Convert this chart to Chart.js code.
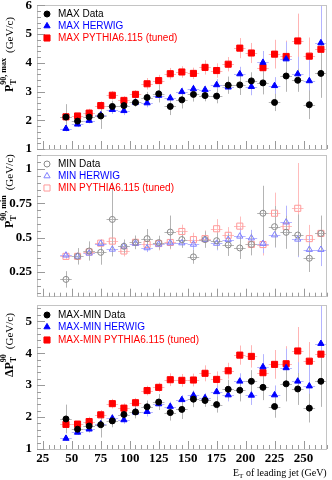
<!DOCTYPE html>
<html>
<head>
<meta charset="utf-8">
<script src="https://cdn.jsdelivr.net/npm/chart.js@4/dist/chart.umd.min.js"></script>
<style>
  body { margin: 0; background: #fff; width: 332px; height: 480px; position: relative; overflow: hidden; }
  canvas { position: absolute; left: 0; }
</style>
</head>
<body>
<canvas id="panelMax" width="332" height="156" style="top:0px"></canvas>
<canvas id="panelMin" width="332" height="152" style="top:150px"></canvas>
<canvas id="panelDiff" width="332" height="180" style="top:300px"></canvas>
<script>
// bin centres (GeV), each bin is 10 GeV wide
const jetEt = [45, 55, 65, 75, 85, 95, 105, 115, 125, 135, 145, 155, 165, 175, 185, 195, 205, 215, 225, 235, 245, 255, 265];
const binHalf = 5;
const xTickLabels = [25, 50, 75, 100, 125, 150, 175, 200, 225, 250];

// PT90,max
const maxData   = [2.11, 1.97, 2.11, 2.15, 2.48, 2.51, 2.62, 2.79, 2.92, 2.48, 2.71, 2.90, 2.86, 2.84, 3.22, 3.23, 3.37, 3.30, 2.62, 3.54, 3.39, 2.54, 3.63];
const maxDataErr = [0.45, 0.15, 0.2, 0.45, 0.2, 0.2, 0.15, 0.2, 0.3, 0.3, 0.3, 0.25, 0.2, 0.25, 0.3, 0.35, 0.3, 0.4, 0.3, 0.55, 0.4, 0.5, 0.85];
const maxHerwig = [1.71, 1.86, 1.99, 2.18, 2.37, 2.33, 2.62, 2.60, 2.86, 2.77, 2.99, 3.09, 3.06, 3.23, 3.15, 3.61, 3.17, 4.01, 3.20, 4.13, 3.61, 3.37, 4.69];
const maxHerwigErr = [0.1, 0.1, 0.1, 0.15, 0.15, 0.15, 0.15, 0.15, 0.15, 0.15, 0.15, 0.15, 0.15, 0.2, 0.2, 0.25, 0.3, 0.4, 0.3, 0.6, 0.6, 0.8, 1.3];
const maxPythia = [2.12, 2.15, 2.25, 2.51, 2.87, 2.69, 2.90, 3.27, 3.38, 3.62, 3.68, 3.63, 3.84, 3.73, 3.95, 4.51, 4.34, 3.83, 4.30, 4.22, 4.76, 4.23, 4.47];
const maxPythiaErr = [0.1, 0.1, 0.15, 0.15, 0.15, 0.15, 0.15, 0.2, 0.2, 0.2, 0.2, 0.2, 0.25, 0.25, 0.25, 0.35, 0.35, 0.4, 0.5, 0.55, 0.95, 0.65, 0.7];
const maxTicks = [1, 2, 3, 4, 5, 6];

// PT90,min
const minData   = [0.196, 0.364, 0.403, 0.393, 0.633, 0.437, 0.466, 0.493, 0.464, 0.541, 0.486, 0.36, 0.486, 0.478, 0.447, 0.425, 0.451, 0.678, 0.58, 0.539, 0.519, 0.35, 0.531];
const minDataErr = [0.06, 0.06, 0.07, 0.09, 0.27, 0.05, 0.05, 0.07, 0.05, 0.12, 0.06, 0.05, 0.06, 0.06, 0.08, 0.08, 0.08, 0.2, 0.15, 0.12, 0.15, 0.1, 0.13];
const minHerwig = [0.372, 0.364, 0.386, 0.457, 0.415, 0.437, 0.457, 0.425, 0.451, 0.461, 0.461, 0.451, 0.486, 0.458, 0.486, 0.51, 0.497, 0.457, 0.519, 0.613, 0.488, 0.413, 0.413];
const minHerwigErr = [0.02, 0.02, 0.03, 0.03, 0.03, 0.03, 0.03, 0.03, 0.03, 0.03, 0.03, 0.04, 0.04, 0.05, 0.05, 0.06, 0.06, 0.07, 0.09, 0.12, 0.13, 0.1, 0.12];
const minPythia = [0.364, 0.364, 0.396, 0.46, 0.475, 0.403, 0.466, 0.451, 0.457, 0.465, 0.545, 0.486, 0.493, 0.565, 0.517, 0.584, 0.451, 0.45, 0.678, 0.582, 0.714, 0.493, 0.531];
const minPythiaErr = [0.02, 0.02, 0.03, 0.03, 0.03, 0.04, 0.04, 0.04, 0.05, 0.05, 0.05, 0.05, 0.06, 0.07, 0.06, 0.07, 0.07, 0.08, 0.15, 0.1, 0.33, 0.1, 0.12];
const minTicks = [0.25, 0.5, 0.75, 1];

// delta PT90 = max - min
const diffData   = [1.94, 1.62, 1.72, 1.76, 1.88, 2.08, 2.16, 2.32, 2.47, 2.14, 2.24, 2.56, 2.52, 2.39, 2.87, 2.84, 3.12, 2.93, 2.33, 3.04, 2.88, 2.28, 3.12];
const diffDataErr = [0.45, 0.15, 0.2, 0.4, 0.2, 0.2, 0.2, 0.2, 0.25, 0.25, 0.3, 0.25, 0.2, 0.25, 0.3, 0.35, 0.35, 0.4, 0.35, 0.55, 0.5, 0.45, 0.8];
const diffHerwig = [1.33, 1.52, 1.62, 1.78, 1.96, 1.91, 2.15, 2.17, 2.41, 2.33, 2.54, 2.68, 2.60, 2.79, 2.69, 3.12, 2.68, 3.57, 2.69, 3.54, 3.12, 2.97, 4.30];
const diffHerwigErr = [0.08, 0.08, 0.1, 0.12, 0.12, 0.12, 0.12, 0.15, 0.15, 0.15, 0.15, 0.15, 0.15, 0.2, 0.2, 0.25, 0.3, 0.4, 0.3, 0.6, 0.6, 0.8, 1.2];
const diffPythia = [1.77, 1.78, 1.86, 2.07, 2.42, 2.28, 2.45, 2.83, 2.93, 3.17, 3.15, 3.16, 3.37, 3.18, 3.45, 3.94, 3.90, 3.39, 3.65, 3.67, 4.07, 3.75, 3.97];
const diffPythiaErr = [0.1, 0.1, 0.15, 0.15, 0.15, 0.15, 0.15, 0.15, 0.15, 0.2, 0.2, 0.2, 0.25, 0.25, 0.25, 0.3, 0.35, 0.4, 0.45, 0.55, 0.75, 0.6, 0.65];
const diffTicks = [1, 2, 3, 4, 5];

const serif = "'Liberation Serif', 'DejaVu Serif', serif";
const sans = "'Liberation Sans', Arial, sans-serif";

function points(ys) {
  return ys.map((y, i) => ({ x: jetEt[i], y: y }));
}

function series(label, ys, errs, shape, radius, fill, stroke, barColor, textColor) {
  return {
    label: label,
    data: points(ys),
    errY: errs,
    barColor: barColor,
    textColor: textColor,
    pointStyle: shape,
    pointRadius: radius,
    pointHoverRadius: radius,
    backgroundColor: fill,
    borderColor: stroke,
    borderWidth: 1,
    showLine: false
  };
}

// error bars: horizontal = bin width, vertical = errY
const errorBars = {
  id: 'errorBars',
  beforeDatasetsDraw(chart) {
    const { ctx, chartArea: a, scales: { x, y } } = chart;
    ctx.save();
    ctx.beginPath();
    ctx.rect(a.left, a.top, a.right - a.left, a.bottom - a.top);
    ctx.clip();
    ctx.lineWidth = 1;
    // draw last dataset's bars first so the data bars sit on top
    for (let d = chart.data.datasets.length - 1; d >= 0; d--) {
      const ds = chart.data.datasets[d];
      ctx.strokeStyle = ds.barColor;
      ds.data.forEach((p, i) => {
        const px = Math.round(x.getPixelForValue(p.x)) + 0.5;
        const py = Math.round(y.getPixelForValue(p.y)) + 0.5;
        ctx.beginPath();
        ctx.moveTo(x.getPixelForValue(p.x - binHalf), py);
        ctx.lineTo(x.getPixelForValue(p.x + binHalf), py);
        ctx.moveTo(px, y.getPixelForValue(p.y - ds.errY[i]));
        ctx.lineTo(px, y.getPixelForValue(p.y + ds.errY[i]));
        ctx.stroke();
      });
    }
    ctx.restore();
  }
};

// rotated axis title built from pieces (sub/superscripts)
function drawRotTitle(ctx, x, yStart, parts) {
  ctx.save();
  ctx.translate(x, yStart);
  ctx.rotate(-Math.PI / 2);
  ctx.fillStyle = '#000';
  ctx.textBaseline = 'alphabetic';
  let pos = 0, lastStart = 0;
  parts.forEach(p => {
    ctx.font = p.font;
    const start = p.stack ? lastStart : pos + (p.gap || 0);
    ctx.fillText(p.text, start, p.dy || 0);
    lastStart = start;
    pos = Math.max(pos, start + ctx.measureText(p.text).width);
  });
  ctx.restore();
}

const panelDeco = {
  id: 'panelDeco',
  afterDraw(chart, args, opts) {
    const { ctx, chartArea: a, scales: { x, y } } = chart;
    ctx.save();
    // frame
    ctx.strokeStyle = '#c4c4c4';
    ctx.lineWidth = 1;
    ctx.strokeRect(Math.round(a.left) + 0.5, Math.round(a.top) + 0.5,
      Math.round(a.right - a.left) - 1, Math.round(a.bottom - a.top));
    // ticks on the y axis
    ctx.strokeStyle = '#9a9a9a';
    ctx.beginPath();
    const yStep = opts.yMinor;
    for (let v = Math.ceil(y.min / yStep) * yStep; v <= y.max + 1e-9; v += yStep) {
      const py = Math.round(y.getPixelForValue(v)) + 0.5;
      const major = opts.yTicks.some(t => Math.abs(t - v) < 1e-6);
      ctx.moveTo(a.left, py);
      ctx.lineTo(a.left + (major ? 8 : 4), py);
    }
    // ticks on the x axis
    for (let v = 25; v <= x.max; v += 5) {
      const px = Math.round(x.getPixelForValue(v)) + 0.5;
      const major = v % 25 === 0;
      ctx.moveTo(px, a.bottom);
      ctx.lineTo(px, a.bottom - (major ? 8 : 4));
    }
    ctx.stroke();
    ctx.restore();

    // y title
    drawRotTitle(ctx, opts.titleX, opts.titleY, opts.title);

    // legend
    ctx.save();
    ctx.font = '10px ' + sans;
    ctx.textBaseline = 'middle';
    chart.data.datasets.forEach((ds, i) => {
      const ly = opts.legendY[i];
      ctx.fillStyle = ds.backgroundColor;
      ctx.strokeStyle = ds.borderColor;
      ctx.lineWidth = 1;
      Chart.helpers.drawPoint(ctx, { pointStyle: ds.pointStyle, radius: ds.pointRadius, borderWidth: 1 }, 47, ly);
      ctx.fillStyle = ds.textColor;
      ctx.fillText(ds.label, 58, ly + 0.5);
    });
    ctx.restore();

    // x title under the last panel
    if (opts.xTitle) {
      ctx.save();
      ctx.fillStyle = '#000';
      ctx.textBaseline = 'alphabetic';
      const pieces = [
        { text: 'E', font: '10px ' + serif, dy: 0 },
        { text: 'T', font: '7px ' + serif, dy: 2 },
        { text: ' of leading jet (GeV)', font: '10px ' + serif, dy: 0 }
      ];
      let w = 0;
      pieces.forEach(p => { ctx.font = p.font; w += ctx.measureText(p.text).width; });
      let px = a.right - w;
      pieces.forEach(p => {
        ctx.font = p.font;
        ctx.fillText(p.text, px, opts.xTitle + p.dy);
        px += ctx.measureText(p.text).width;
      });
      ctx.restore();
    }
  }
};

function makePanel(id, datasets, yMin, yMax, yTicks, padTop, xHeight, showXLabels, deco) {
  return new Chart(document.getElementById(id), {
    type: 'scatter',
    data: { datasets: datasets },
    options: {
      responsive: false,
      animation: false,
      devicePixelRatio: 1,
      layout: { padding: { left: 0, right: 4, top: padTop, bottom: 0 } },
      plugins: { legend: { display: false }, tooltip: { enabled: false }, panelDeco: deco },
      scales: {
        x: {
          type: 'linear', min: 20, max: 270,
          grid: { display: false, drawTicks: false }, border: { display: false },
          afterBuildTicks: s => { s.ticks = xTickLabels.map(v => ({ value: v })); },
          afterFit: s => { s.height = xHeight; s.paddingLeft = 0; s.paddingRight = 0; },
          ticks: {
            display: showXLabels, padding: 2, color: '#000',
            font: { family: serif, size: 13, weight: 'bold' },
            maxRotation: 0, autoSkip: false,
            callback: v => String(v)
          }
        },
        y: {
          type: 'linear', min: yMin, max: yMax,
          grid: { display: false, drawTicks: false }, border: { display: false },
          afterBuildTicks: s => { s.ticks = yTicks.map(v => ({ value: v })); },
          afterFit: s => { s.width = 37; s.paddingTop = 0; s.paddingBottom = 0; },
          ticks: {
            padding: 5, color: '#000',
            font: { family: serif, size: 13, weight: 'bold' },
            callback: v => String(+v.toFixed(2))
          }
        }
      }
    },
    plugins: [errorBars, panelDeco]
  });
}

const bTitle = 'bold 12px ' + serif;
const bSmall = 'bold 8px ' + serif;
const unitFont = '11px ' + serif;

makePanel('panelMax', [
  series('MAX Data', maxData, maxDataErr, 'circle', 3, '#000', '#000', '#b4b4b4', '#000'),
  series('MAX HERWIG', maxHerwig, maxHerwigErr, 'triangle', 3.6, '#0000ff', '#0000ff', '#b4b4ff', '#0000ff'),
  series('MAX PYTHIA6.115 (tuned)', maxPythia, maxPythiaErr, 'rect', 4.3, '#ff0000', '#ff0000', '#ffb4b4', '#ff0000')
], 1, 6, maxTicks, 5, 7, false, {
  yTicks: maxTicks, yMinor: 0.2, legendY: [14, 26, 38],
  titleX: 13, titleY: 92,
  title: [
    { text: 'P', font: bTitle },
    { text: 'T', font: bSmall, dy: 3 },
    { text: '90, max', font: bSmall, dy: -7, stack: true },
    { text: '(GeV/c)', font: unitFont, gap: 5 }
  ]
});

makePanel('panelMin', [
  series('MIN Data', minData, minDataErr, 'circle', 3, 'rgba(0,0,0,0)', '#8a8a8a', '#b4b4b4', '#000'),
  series('MIN HERWIG', minHerwig, minHerwigErr, 'triangle', 3.6, 'rgba(0,0,0,0)', '#8080ff', '#b4b4ff', '#0000ff'),
  series('MIN PYTHIA6.115 (tuned)', minPythia, minPythiaErr, 'rect', 4.3, 'rgba(0,0,0,0)', '#ff9a9a', '#ffbcbc', '#ff0000')
], 0.07, 1.1, minTicks, 5, 5, false, {
  yTicks: minTicks, yMinor: 0.05, legendY: [14, 26, 38],
  titleX: 13, titleY: 78,
  title: [
    { text: 'P', font: bTitle },
    { text: 'T', font: bSmall, dy: 3 },
    { text: '90, min', font: bSmall, dy: -7, stack: true },
    { text: '(GeV/c)', font: unitFont, gap: 5 }
  ]
});

makePanel('panelDiff', [
  series('MAX-MIN Data', diffData, diffDataErr, 'circle', 3, '#000', '#000', '#b4b4b4', '#000'),
  series('MAX-MIN HERWIG', diffHerwig, diffHerwigErr, 'triangle', 3.6, '#0000ff', '#0000ff', '#b4b4ff', '#0000ff'),
  series('MAX-MIN PYTHIA6.115 (tuned)', diffPythia, diffPythiaErr, 'rect', 4.3, '#ff0000', '#ff0000', '#ffb4b4', '#ff0000')
], 1, 5.5, diffTicks, 5, 31, true, {
  yTicks: diffTicks, yMinor: 0.2, legendY: [15, 27, 40],
  titleX: 13, titleY: 77, xTitle: 176,
  title: [
    { text: '\u0394P', font: bTitle },
    { text: 'T', font: bSmall, dy: 3 },
    { text: '90', font: bSmall, dy: -7, stack: true },
    { text: '(GeV/c)', font: unitFont, gap: 5 }
  ]
});
</script>
</body>
</html>
